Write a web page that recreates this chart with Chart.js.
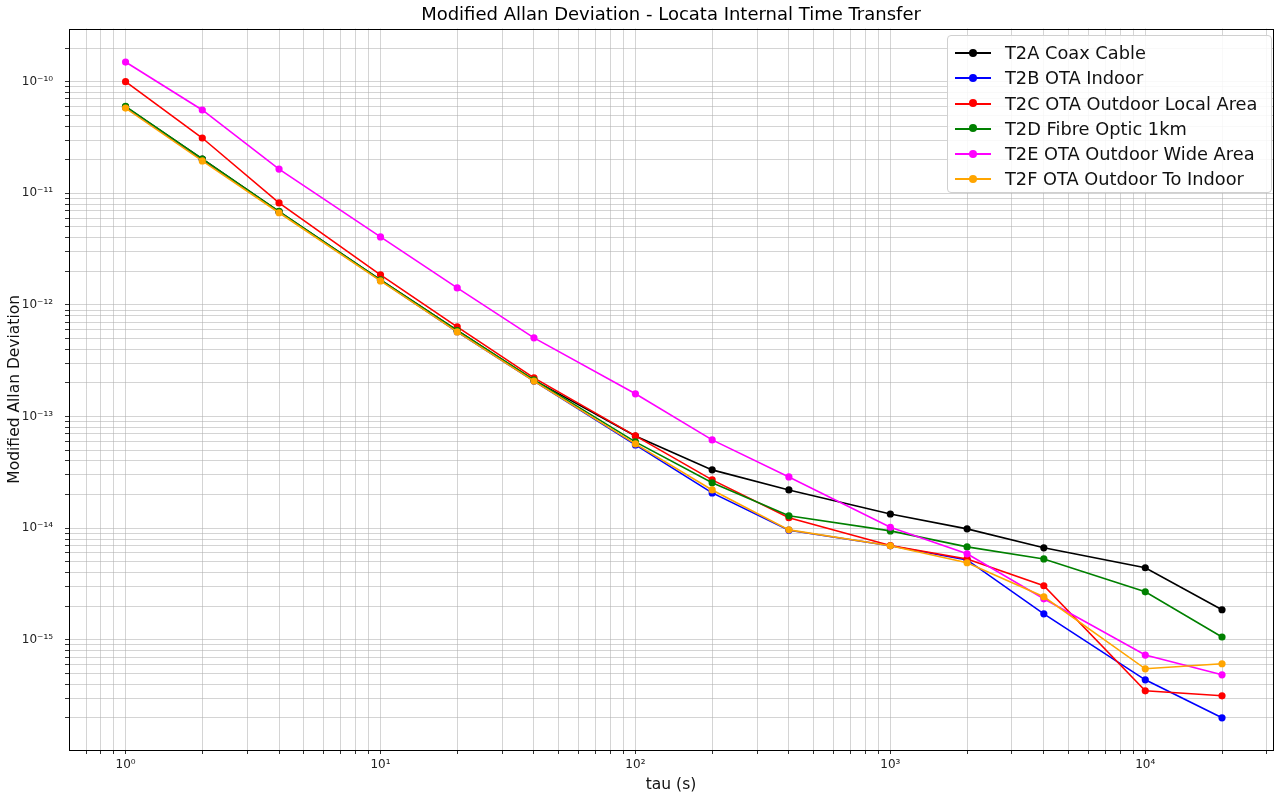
<!DOCTYPE html>
<html>
<head>
<meta charset="utf-8">
<script src="https://cdn.jsdelivr.net/npm/chart.js@4.4.1/dist/chart.umd.min.js"></script>
<style>
  html, body { margin: 0; padding: 0; background: #fff; }
  #wrap { position: relative; width: 1279px; height: 800px; font-family: "DejaVu Sans", sans-serif; }
  #legend {
    position: absolute; left: 947px; top: 35px; width: 325px; height: 158px;
    border: 1px solid #d0d0d0; border-radius: 4px; background: rgba(255,255,255,0.85);
    box-sizing: border-box; padding-top: 4px;
  }
  .row { position: relative; height: 25.3px; font-size: 17.8px; color: #111; line-height: 25.3px; white-space: nowrap; }
  .sample { position: absolute; left: 7px; top: 12px; width: 36px; height: 2px; }
  .dot { position: absolute; left: 14px; top: -3.5px; width: 8px; height: 8px; border-radius: 50%; }
  .lbl { position: absolute; left: 57px; top: 0; }
</style>
</head>
<body>
<div id="wrap">
  <canvas id="c" width="1279" height="800"></canvas>
  <div id="legend"></div>
</div>
<script>
const tau = [1, 2, 4, 10, 20, 40, 100, 200, 400, 1000, 2000, 4000, 10000, 20000];

const seriesNames = [
  "T2A Coax Cable",
  "T2B OTA Indoor",
  "T2C OTA Outdoor Local Area",
  "T2D Fibre Optic 1km",
  "T2E OTA Outdoor Wide Area",
  "T2F OTA Outdoor To Indoor"
];
const seriesColors = ["#000000", "#0000ff", "#ff0000", "#008000", "#ff00ff", "#ffa500"];

const t2a = [5.95e-11, 2.03e-11, 6.85e-12, 1.68e-12, 5.9e-13, 2.12e-13, 6.7e-14, 3.33e-14, 2.2e-14, 1.34e-14, 9.86e-15, 6.67e-15, 4.42e-15, 1.86e-15];
const t2b = [5.9e-11, 2.0e-11, 6.8e-12, 1.66e-12, 5.75e-13, 2.08e-13, 5.57e-14, 2.07e-14, 9.6e-15, 6.95e-15, 5.2e-15, 1.71e-15, 4.38e-16, 2.0e-16];
const t2c = [1.0e-10, 3.13e-11, 8.2e-12, 1.86e-12, 6.36e-13, 2.22e-13, 6.71e-14, 2.71e-14, 1.24e-14, 7.0e-15, 5.3e-15, 3.05e-15, 3.49e-16, 3.15e-16];
const t2d = [6.0e-11, 2.03e-11, 6.9e-12, 1.68e-12, 5.9e-13, 2.13e-13, 5.93e-14, 2.55e-14, 1.29e-14, 9.46e-15, 6.8e-15, 5.3e-15, 2.69e-15, 1.06e-15];
const t2e = [1.5e-10, 5.58e-11, 1.65e-11, 4.07e-12, 1.42e-12, 5.07e-13, 1.6e-13, 6.18e-14, 2.88e-14, 1.02e-14, 5.89e-15, 2.33e-15, 7.3e-16, 4.86e-16];
const t2f = [5.8e-11, 1.95e-11, 6.7e-12, 1.64e-12, 5.73e-13, 2.08e-13, 5.69e-14, 2.2e-14, 9.66e-15, 6.95e-15, 4.9e-15, 2.43e-15, 5.5e-16, 6.1e-16];

const allSeries = [t2a, t2b, t2c, t2d, t2e, t2f];

const chartTitle = "Modified Allan Deviation - Locata Internal Time Transfer";
const xTitle = "tau (s)";
const yTitle = "Modified Allan Deviation";

const xRange = [0.609, 31700];
const yRange = [1.03e-16, 2.99e-10];

const FONT = "'DejaVu Sans', sans-serif";
const sup = { "-": "\u207B", "0": "\u2070", "1": "\u00B9", "2": "\u00B2", "3": "\u00B3", "4": "\u2074", "5": "\u2075", "6": "\u2076", "7": "\u2077", "8": "\u2078", "9": "\u2079" };
function powLabel(v) {
  const l = Math.log10(v);
  const r = Math.round(l);
  if (Math.abs(l - r) > 1e-6) return "";
  return "10" + String(r).split("").map(c => sup[c]).join("");
}
function logTicks(min, max) {
  const out = [];
  for (let e = Math.floor(Math.log10(min)) - 1; e <= Math.ceil(Math.log10(max)); e++) {
    for (let m = 1; m <= 9; m++) {
      const v = parseFloat((m + "e" + e));
      if (v >= min && v <= max) out.push({ value: v });
    }
  }
  return out;
}

const datasets = allSeries.map((s, i) => ({
  label: seriesNames[i],
  data: tau.map((t, k) => ({ x: t, y: s[k] })),
  borderColor: seriesColors[i],
  backgroundColor: seriesColors[i],
  borderWidth: 1.6,
  pointRadius: 3.6,
  pointBorderWidth: 0,
  pointHoverRadius: 3.6,
  tension: 0,
  order: allSeries.length - 1 - i
}));

const frame = {
  id: "frame",
  afterLayout(chart) {
    const t = chart.titleBlock;
    if (t) {
      t.left = chart.chartArea.left;
      t.right = chart.chartArea.right;
      t.width = t.right - t.left;
    }
  },
  afterDraw(chart) {
    const { ctx, chartArea: a } = chart;
    ctx.save();
    ctx.strokeStyle = "#000";
    ctx.lineWidth = 1;
    ctx.strokeRect(Math.round(a.left) + 0.5, Math.round(a.top) + 0.5, Math.round(a.right - a.left), Math.round(a.bottom - a.top));
    ctx.restore();
  }
};

const gridCfg = {
  color: "rgba(176,176,176,0.55)",
  lineWidth: 1,
  tickColor: "#333",
  tickLength: 4,
  drawTicks: true
};

new Chart(document.getElementById("c"), {
  type: "line",
  data: { datasets },
  plugins: [frame],
  options: {
    responsive: false,
    devicePixelRatio: 1,
    animation: false,
    events: [],
    layout: { padding: { left: 0, right: 6, top: 0, bottom: 0 } },
    plugins: {
      legend: { display: false },
      tooltip: { enabled: false },
      title: {
        display: true,
        text: chartTitle,
        color: "#000",
        font: { family: FONT, size: 18, weight: "normal", lineHeight: 1.2 },
        padding: { top: 5, bottom: 2 }
      }
    },
    scales: {
      x: {
        type: "logarithmic",
        position: "bottom",
        min: xRange[0],
        max: xRange[1],
        afterBuildTicks(s) { s.ticks = logTicks(xRange[0], xRange[1]); },
        afterFit(s) { s.height = 50; },
        border: { display: false },
        grid: gridCfg,
        ticks: {
          autoSkip: false, maxRotation: 0, minRotation: 0, padding: 4,
          color: "#222", font: { family: FONT, size: 12 },
          callback: (v) => powLabel(v)
        },
        title: {
          display: true, text: xTitle, color: "#111",
          font: { family: FONT, size: 15.5 }, padding: { top: 0, bottom: 6 }
        }
      },
      y: {
        type: "logarithmic",
        position: "left",
        min: yRange[0],
        max: yRange[1],
        afterBuildTicks(s) { s.ticks = logTicks(yRange[0], yRange[1]); },
        afterFit(s) { s.width = 69; },
        border: { display: false },
        grid: gridCfg,
        ticks: {
          autoSkip: false, padding: 12,
          color: "#222", font: { family: FONT, size: 12 },
          callback: (v) => powLabel(v)
        },
        title: {
          display: true, text: yTitle, color: "#111",
          font: { family: FONT, size: 15.5 }, padding: { top: 6, bottom: 0 }
        }
      }
    }
  }
});

const leg = document.getElementById("legend");
seriesNames.forEach((n, i) => {
  const row = document.createElement("div");
  row.className = "row";
  row.innerHTML = '<div class="sample" style="background:' + seriesColors[i] + '"><div class="dot" style="background:' + seriesColors[i] + '"></div></div><span class="lbl"></span>';
  row.querySelector(".lbl").textContent = n;
  leg.appendChild(row);
});
</script>
</body>
</html>
